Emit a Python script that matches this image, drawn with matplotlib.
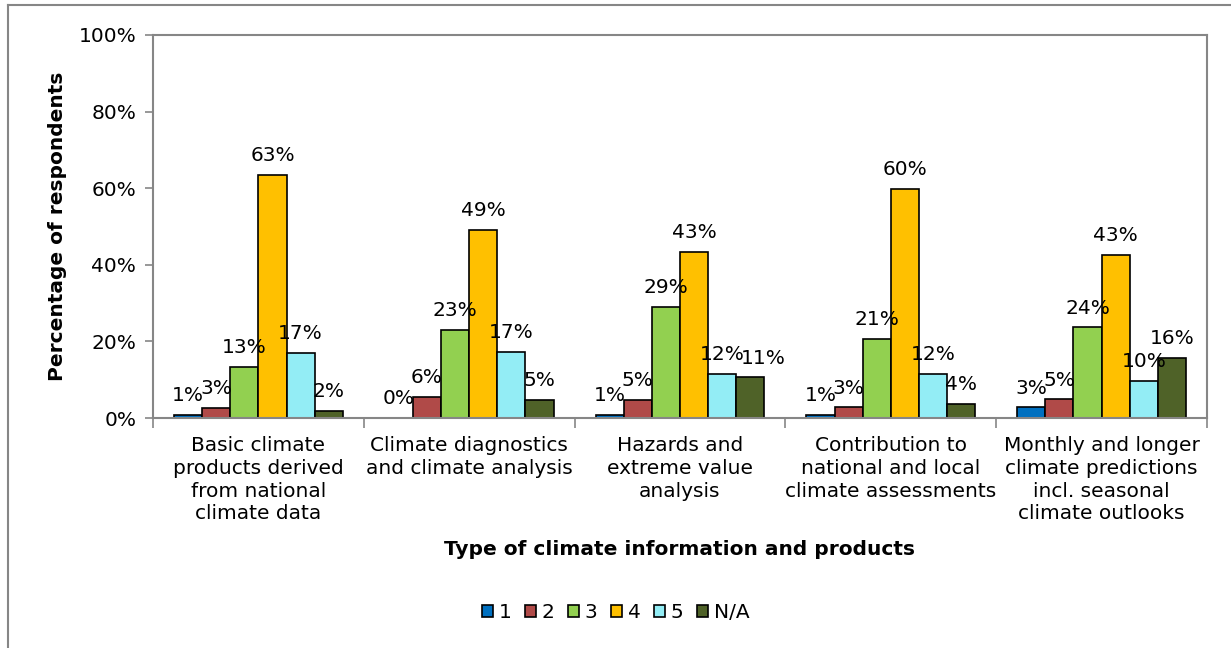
import numpy as np
import matplotlib.pyplot as plt
from matplotlib.lines import Line2D

# survey results: share of respondents giving each rating, per product type
categories = [
    "Basic climate\nproducts derived\nfrom national\nclimate data",
    "Climate diagnostics\nand climate analysis",
    "Hazards and\nextreme value\nanalysis",
    "Contribution to\nnational and local\nclimate assessments",
    "Monthly and longer\nclimate predictions\nincl. seasonal\nclimate outlooks",
]
series_names = ["1", "2", "3", "4", "5", "N/A"]
rating_1 = [0.9, 0.0, 0.9, 0.9, 2.8]
rating_2 = [2.7, 5.6, 4.8, 2.8, 4.9]
rating_3 = [13.3, 23.0, 29.0, 20.6, 23.7]
rating_4 = [63.4, 49.1, 43.3, 59.8, 42.6]
rating_5 = [17.1, 17.2, 11.6, 11.6, 9.7]
rating_na = [1.8, 4.8, 10.6, 3.7, 15.7]

colors = ["#0070C0", "#B04A48", "#92D050", "#FFC000", "#93EDF5", "#4F6228"]
grey = "#868686"

plt.rcParams["font.family"] = "DejaVu Sans"
plt.rcParams["font.size"] = 14.5

fig = plt.figure(figsize=(12.31, 6.48), dpi=100)
ax = fig.add_axes([153 / 1231, 1 - 418 / 648, (1207 - 153) / 1231, (418 - 35) / 648])

# outer chart-area frame (top and left edges visible)
fig.add_artist(Line2D([8 / 1231, 1.0], [1 - 5 / 648, 1 - 5 / 648],
                      transform=fig.transFigure, color=grey, lw=1.5))
fig.add_artist(Line2D([8 / 1231, 8 / 1231], [0.0, 1 - 5 / 648],
                      transform=fig.transFigure, color=grey, lw=1.5))

all_series = [rating_1, rating_2, rating_3, rating_4, rating_5, rating_na]
x = np.arange(len(categories))
n = len(all_series)
width = 0.8 / n

for i, (vals, name, c) in enumerate(zip(all_series, series_names, colors)):
    pos = x - 0.4 + width * (i + 0.5)
    ax.bar(pos, vals, width, color=c, edgecolor="black", linewidth=1.2, label=name)
    for j, (px, v) in enumerate(zip(pos, vals)):
        # nudge the N/A label of the hazards group clear of its neighbour
        dx = 9 if (name == "N/A" and j == 2) else 0
        ax.annotate(f"{v:.0f}%", (px, v), xytext=(dx, 7), textcoords="offset points",
                    ha="center", va="bottom", fontsize=14.5)

ax.set_xlim(-0.5, len(categories) - 0.5)
ax.set_ylim(0, 100)
ax.set_yticks(np.arange(0, 101, 20))
ax.set_yticklabels([f"{t}%" for t in range(0, 101, 20)])

# major ticks mark category boundaries, minor ticks carry the labels
ax.set_xticks(np.arange(-0.5, len(categories), 1.0))
ax.set_xticklabels([])
ax.set_xticks(x, minor=True)
ax.set_xticklabels(categories, minor=True, linespacing=1.25)
ax.tick_params(axis="x", which="minor", length=0, pad=13)
ax.tick_params(axis="x", which="major", length=7, direction="out", color=grey, width=1.2)
ax.tick_params(axis="y", length=6, direction="out", color=grey, width=1.2, pad=6)

for s in ax.spines.values():
    s.set_color(grey)
    s.set_linewidth(1.5)

ax.set_ylabel("Percentage of respondents", fontweight="bold", labelpad=8)
ax.set_xlabel("Type of climate information and products", fontweight="bold", labelpad=12)

fig.legend(loc="center", bbox_to_anchor=(0.5, 1 - 613 / 648), ncol=6, frameon=False,
           handlelength=0.55, handleheight=0.55, handletextpad=0.3, columnspacing=0.65)

fig.savefig("out.png", dpi=100, facecolor="white")
